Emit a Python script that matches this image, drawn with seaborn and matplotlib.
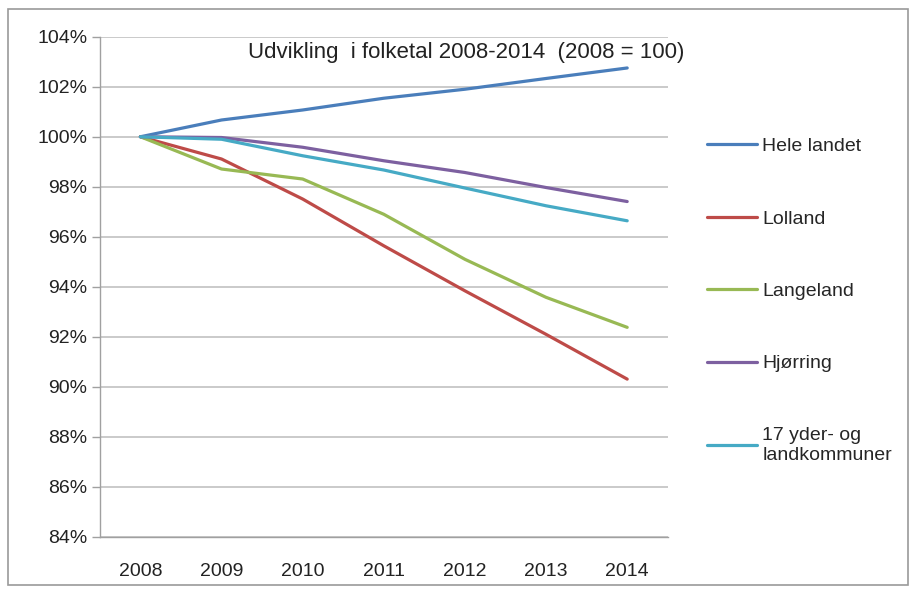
"""Population development chart, 2008-2014 (2008 = 100)."""

import matplotlib.pyplot as plt
import matplotlib.ticker as mticker
import numpy as np
import pandas as pd
import seaborn as sns
from matplotlib.patches import Rectangle

years = ["2008", "2009", "2010", "2011", "2012", "2013", "2014"]

hele_landet = [100.0, 100.67, 101.07, 101.54, 101.90, 102.33, 102.75]
lolland = [100.0, 99.11, 97.51, 95.64, 93.84, 92.10, 90.31]
langeland = [100.0, 98.71, 98.31, 96.90, 95.10, 93.58, 92.38]
hjorring = [100.0, 99.97, 99.58, 99.04, 98.57, 97.97, 97.41]
yder_land = [100.0, 99.90, 99.24, 98.67, 97.95, 97.24, 96.64]

series_names = ["Hele landet", "Lolland", "Langeland", "Hjørring",
                "17 yder- og\nlandkommuner"]
series_values = [hele_landet, lolland, langeland, hjorring, yder_land]
colors = ["#4A7EBB", "#BE4B48", "#98B954", "#7D60A0", "#46AAC5"]

rows = []
for name, vals in zip(series_names, series_values):
    for yr, v in zip(years, vals):
        rows.append({"year": yr, "value": v, "series": name})
df = pd.DataFrame(rows)

sns.set_style("white")
plt.rcParams["font.family"] = ["Liberation Sans", "DejaVu Sans"]

fig = plt.figure(figsize=(9.16, 5.92), dpi=100)
ax = fig.add_axes([0.109, 0.093, 0.62, 0.845])

sns.lineplot(data=df, x="year", y="value", hue="series", palette=colors,
             hue_order=series_names, sort=False, lw=2.3, ax=ax)

ax.set_xlim(-0.5, 6.5)
ax.set_ylim(84, 104)
ax.set_yticks(np.arange(84, 105, 2))
ax.yaxis.set_major_formatter(mticker.FuncFormatter(lambda v, _: f"{v:.0f}%"))
ax.grid(True, axis="y", color="#c6c6c6", lw=1.3)
ax.set_axisbelow(True)

# category axis: ticks between the year labels
ax.set_xticks(range(len(years)))
ax.set_xticklabels(years)
ax.set_xticks(np.arange(-0.5, 7.0, 1.0), minor=True)
ax.tick_params(axis="x", which="major", length=0, pad=19, labelsize=14,
               labelcolor="#222222")
ax.tick_params(axis="x", which="minor", length=5, color="#a0a0a0", width=1)
ax.tick_params(axis="y", length=6, color="#a0a0a0", width=1, pad=3,
               labelsize=14, labelcolor="#222222", left=True)

for side in ["top", "right"]:
    ax.spines[side].set_visible(False)
for side in ["left", "bottom"]:
    ax.spines[side].set_color("#a0a0a0")
    ax.spines[side].set_linewidth(1)

ax.set_xlabel("")
ax.set_ylabel("")
ax.text(0.645, 0.99, "Udvikling  i folketal 2008-2014  (2008 = 100)",
        transform=ax.transAxes, ha="center", va="top", fontsize=16,
        color="#222222")

ax.legend(loc="upper left", bbox_to_anchor=(1.055, 0.814), frameon=False,
          fontsize=14, handlelength=2.6, handletextpad=0.25,
          labelspacing=2.82, borderaxespad=0)

fig.patches.append(Rectangle((0.009, 0.012), 0.982, 0.973,
                             transform=fig.transFigure, fill=False,
                             edgecolor="#9a9a9a", lw=1.2))

fig.savefig("out.png", dpi=100)
plt.close(fig)
